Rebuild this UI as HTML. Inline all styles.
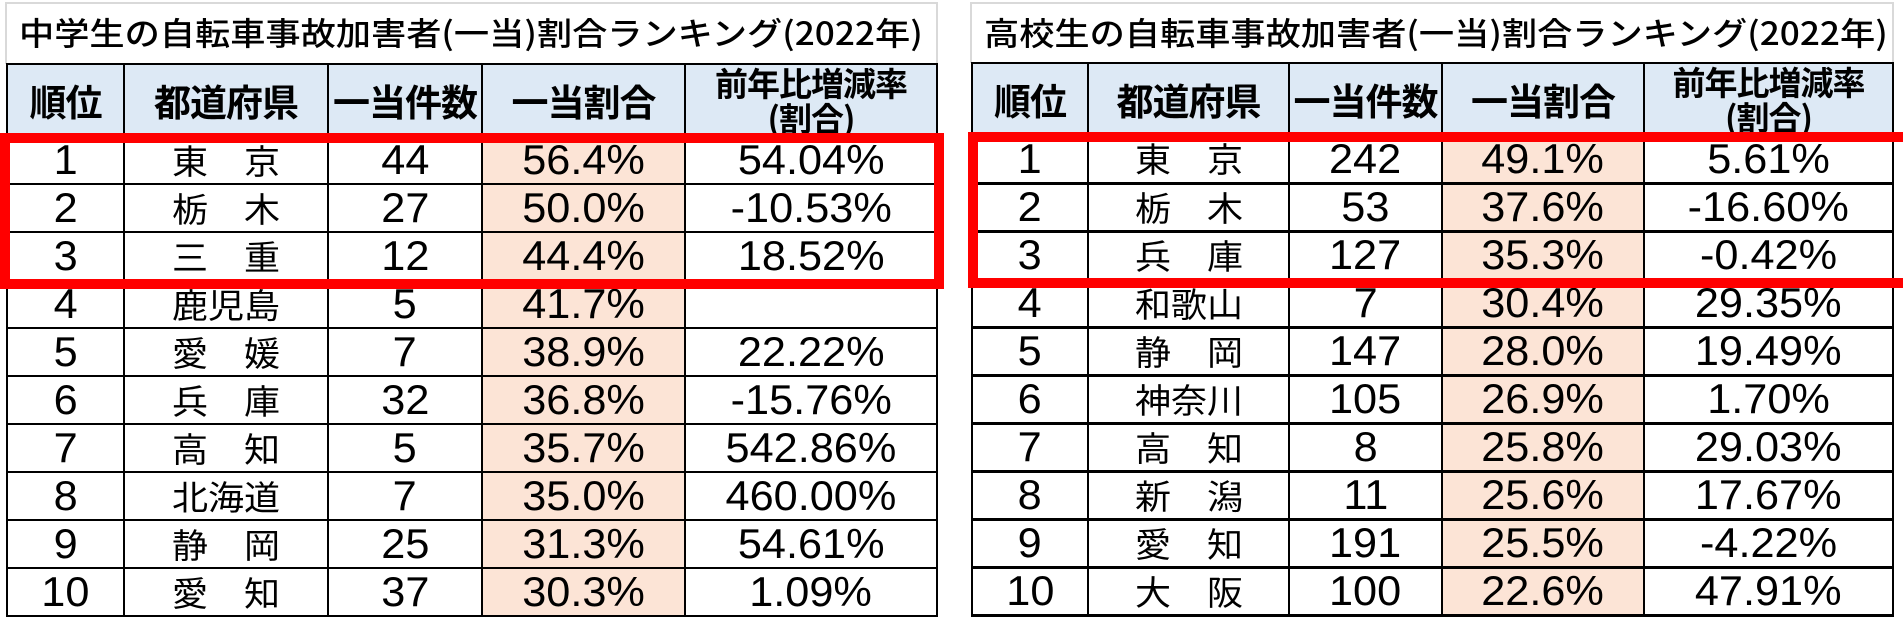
<!DOCTYPE html>
<html><head><meta charset="utf-8"><style>
html,body{margin:0;padding:0;background:#fff;width:1903px;height:617px;overflow:hidden;position:relative;font-family:"Liberation Sans","Noto Sans CJK JP",sans-serif;color:#000}
.title{position:absolute;border:2px solid #d9d9d9;border-bottom:none;box-sizing:border-box;background:#fff}
.title span{position:absolute;left:12px;top:5px;font-size:32px;font-family:"Noto Sans CJK JP",sans-serif;transform:scaleX(1.1);transform-origin:left center;white-space:nowrap;font-weight:500}
table{position:absolute;border-collapse:collapse;table-layout:fixed}
td{border:2px solid #000;text-align:center;vertical-align:middle;padding:0;overflow:hidden;white-space:nowrap;line-height:1}
tr.h td{background:#dde9f5;font-family:"Noto Sans CJK JP",sans-serif;font-weight:700;font-size:37px;letter-spacing:-1px}
tr.h td.two{font-size:33px;vertical-align:top}
.two div{height:68px;overflow:hidden;line-height:35px}
td span{display:inline-block;line-height:1}
.n{font-size:42px;transform:scaleX(1.03)}
.p{font-size:34px;font-family:"Noto Sans CJK JP",sans-serif;transform:scaleX(1.06)}
.pct{background:#fce4d6}
.red{position:absolute;border:10px solid #ff0000;box-sizing:border-box}
#R tr.d td{border-bottom:3px solid #000}
</style></head><body>

<div class="title" style="left:5px;top:2px;width:933px;height:62px"><span>中学生の自転車事故加害者(一当)割合ランキング(2022年)</span></div>
<table style="left:6px;top:63px;width:930px">
<colgroup><col style="width:117px"><col style="width:204px"><col style="width:154px"><col style="width:203px"><col style="width:252px"></colgroup>
<tr class="h" style="height:72px"><td>順位</td><td>都道府県</td><td>一当件数</td><td>一当割合</td><td class="two"><div>前年比増減率<br>(割合)</div></td></tr>
<tr style="height:48px"><td><span class="n">1</span></td><td><span class="p">東　京</span></td><td><span class="n">44</span></td><td class="pct"><span class="n">56.4%</span></td><td><span class="n">54.04%</span></td></tr>
<tr style="height:48px"><td><span class="n">2</span></td><td><span class="p">栃　木</span></td><td><span class="n">27</span></td><td class="pct"><span class="n">50.0%</span></td><td><span class="n">-10.53%</span></td></tr>
<tr style="height:48px"><td><span class="n">3</span></td><td><span class="p">三　重</span></td><td><span class="n">12</span></td><td class="pct"><span class="n">44.4%</span></td><td><span class="n">18.52%</span></td></tr>
<tr style="height:48px"><td><span class="n">4</span></td><td><span class="p">鹿児島</span></td><td><span class="n">5</span></td><td class="pct"><span class="n">41.7%</span></td><td></td></tr>
<tr style="height:48px"><td><span class="n">5</span></td><td><span class="p">愛　媛</span></td><td><span class="n">7</span></td><td class="pct"><span class="n">38.9%</span></td><td><span class="n">22.22%</span></td></tr>
<tr style="height:48px"><td><span class="n">6</span></td><td><span class="p">兵　庫</span></td><td><span class="n">32</span></td><td class="pct"><span class="n">36.8%</span></td><td><span class="n">-15.76%</span></td></tr>
<tr style="height:48px"><td><span class="n">7</span></td><td><span class="p">高　知</span></td><td><span class="n">5</span></td><td class="pct"><span class="n">35.7%</span></td><td><span class="n">542.86%</span></td></tr>
<tr style="height:48px"><td><span class="n">8</span></td><td><span class="p">北海道</span></td><td><span class="n">7</span></td><td class="pct"><span class="n">35.0%</span></td><td><span class="n">460.00%</span></td></tr>
<tr style="height:48px"><td><span class="n">9</span></td><td><span class="p">静　岡</span></td><td><span class="n">25</span></td><td class="pct"><span class="n">31.3%</span></td><td><span class="n">54.61%</span></td></tr>
<tr style="height:48px"><td><span class="n">10</span></td><td><span class="p">愛　知</span></td><td><span class="n">37</span></td><td class="pct"><span class="n">30.3%</span></td><td><span class="n">1.09%</span></td></tr>
</table>
<div class="red" style="left:0;top:133px;width:944px;height:156px"></div>

<div class="title" style="left:970px;top:2px;width:924px;height:61px"><span>高校生の自転車事故加害者(一当)割合ランキング(2022年)</span></div>
<table id="R" style="left:971px;top:62px;width:921px">
<colgroup><col style="width:116px"><col style="width:201px"><col style="width:153px"><col style="width:202px"><col style="width:249px"></colgroup>
<tr class="h" style="height:72px"><td>順位</td><td>都道府県</td><td>一当件数</td><td>一当割合</td><td class="two"><div>前年比増減率<br>(割合)</div></td></tr>
<tr class="d" style="height:48px"><td><span class="n">1</span></td><td><span class="p">東　京</span></td><td><span class="n">242</span></td><td class="pct"><span class="n">49.1%</span></td><td><span class="n">5.61%</span></td></tr>
<tr class="d" style="height:48px"><td><span class="n">2</span></td><td><span class="p">栃　木</span></td><td><span class="n">53</span></td><td class="pct"><span class="n">37.6%</span></td><td><span class="n">-16.60%</span></td></tr>
<tr class="d" style="height:48px"><td><span class="n">3</span></td><td><span class="p">兵　庫</span></td><td><span class="n">127</span></td><td class="pct"><span class="n">35.3%</span></td><td><span class="n">-0.42%</span></td></tr>
<tr class="d" style="height:48px"><td><span class="n">4</span></td><td><span class="p">和歌山</span></td><td><span class="n">7</span></td><td class="pct"><span class="n">30.4%</span></td><td><span class="n">29.35%</span></td></tr>
<tr class="d" style="height:48px"><td><span class="n">5</span></td><td><span class="p">静　岡</span></td><td><span class="n">147</span></td><td class="pct"><span class="n">28.0%</span></td><td><span class="n">19.49%</span></td></tr>
<tr class="d" style="height:48px"><td><span class="n">6</span></td><td><span class="p">神奈川</span></td><td><span class="n">105</span></td><td class="pct"><span class="n">26.9%</span></td><td><span class="n">1.70%</span></td></tr>
<tr class="d" style="height:48px"><td><span class="n">7</span></td><td><span class="p">高　知</span></td><td><span class="n">8</span></td><td class="pct"><span class="n">25.8%</span></td><td><span class="n">29.03%</span></td></tr>
<tr class="d" style="height:48px"><td><span class="n">8</span></td><td><span class="p">新　潟</span></td><td><span class="n">11</span></td><td class="pct"><span class="n">25.6%</span></td><td><span class="n">17.67%</span></td></tr>
<tr class="d" style="height:48px"><td><span class="n">9</span></td><td><span class="p">愛　知</span></td><td><span class="n">191</span></td><td class="pct"><span class="n">25.5%</span></td><td><span class="n">-4.22%</span></td></tr>
<tr class="d" style="height:48px"><td><span class="n">10</span></td><td><span class="p">大　阪</span></td><td><span class="n">100</span></td><td class="pct"><span class="n">22.6%</span></td><td><span class="n">47.91%</span></td></tr>
<tr style="height:6px"><td></td><td></td><td></td><td class="pct"></td><td></td></tr>
</table>
<div class="red" style="left:968px;top:132px;width:945px;height:156px"></div>
</body></html>
